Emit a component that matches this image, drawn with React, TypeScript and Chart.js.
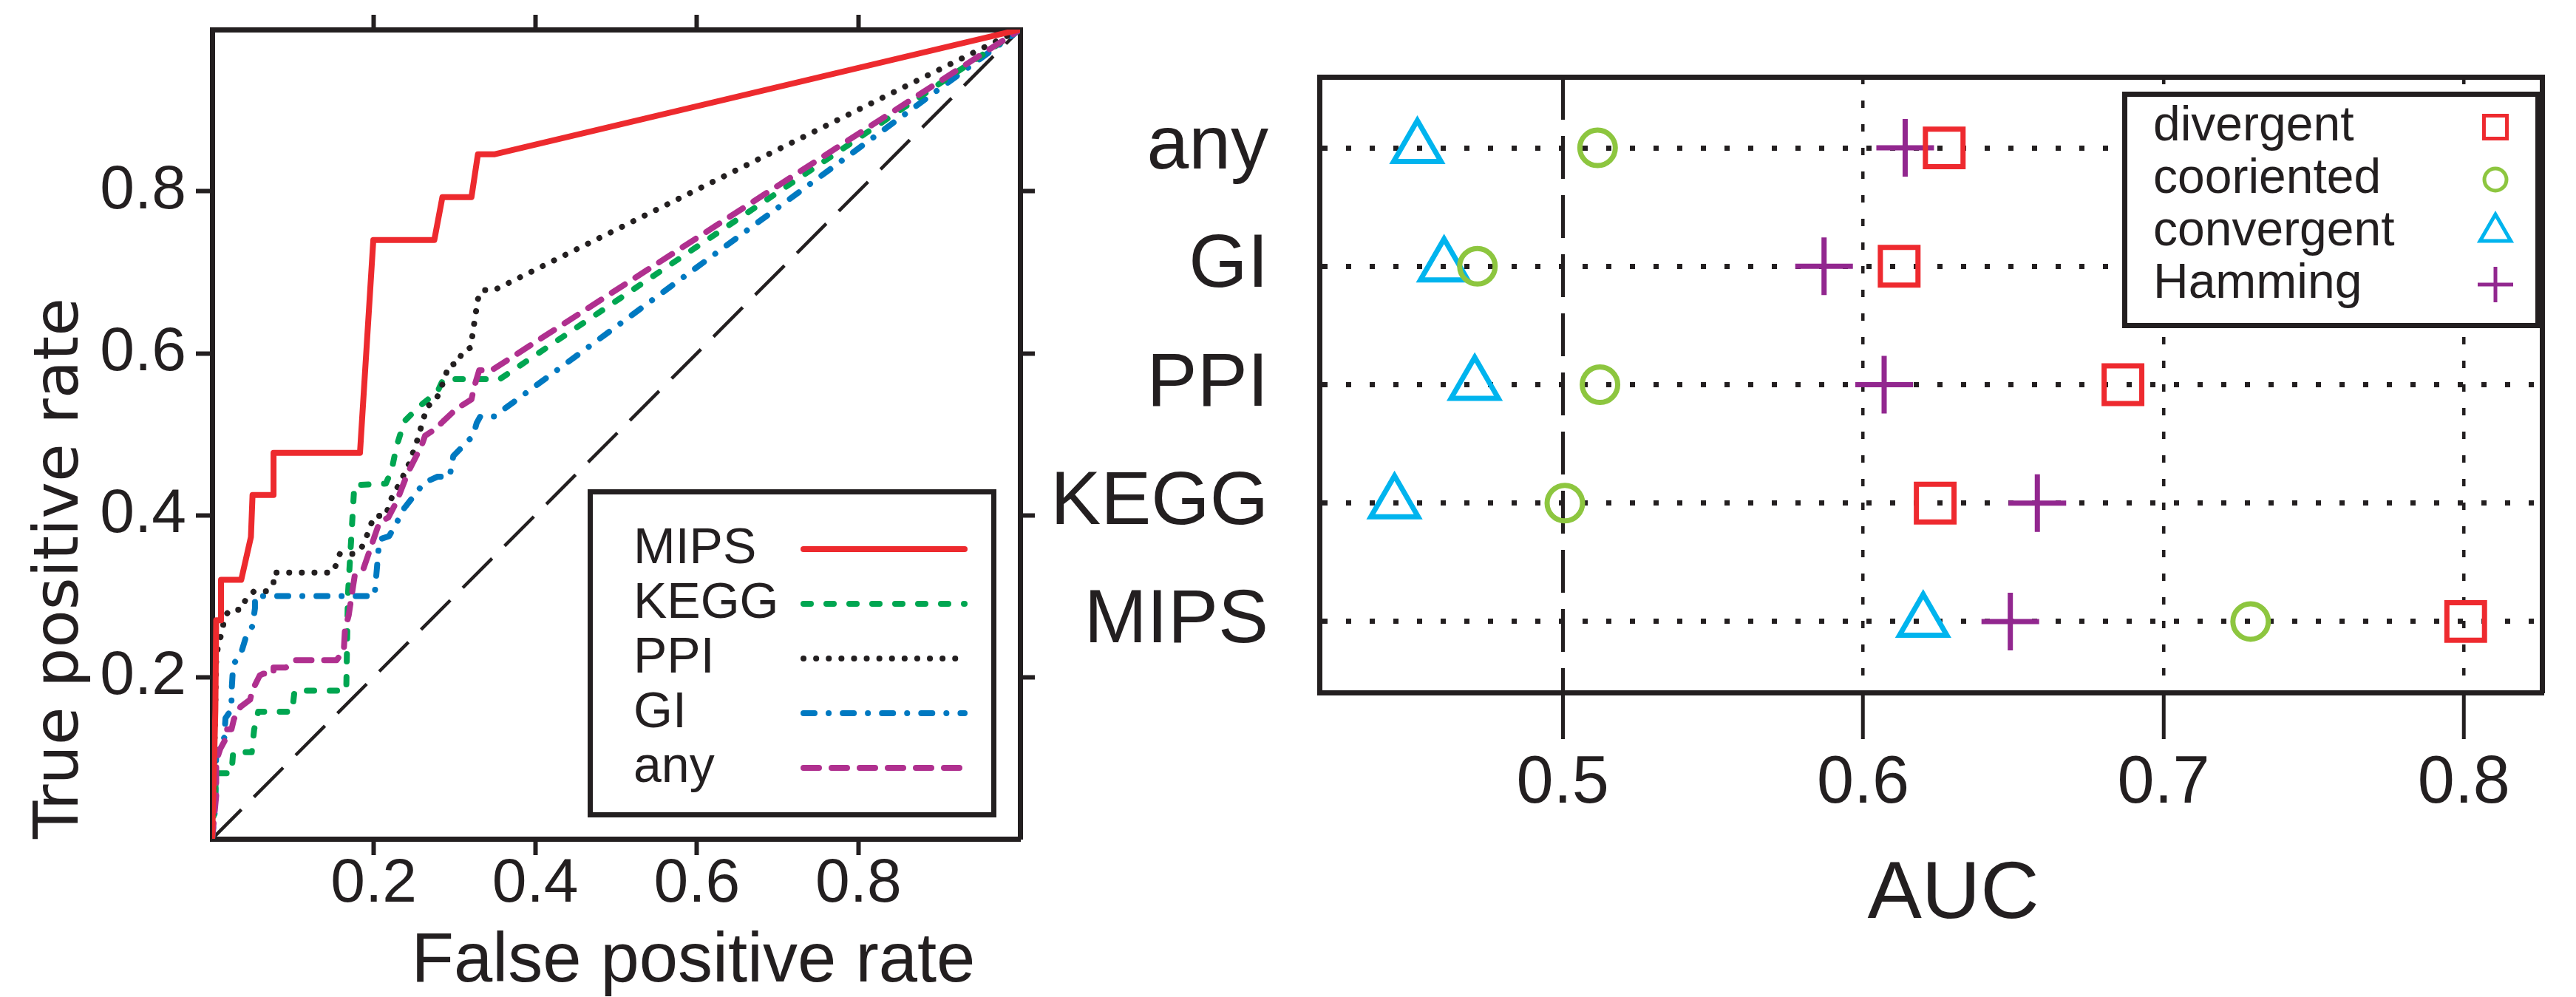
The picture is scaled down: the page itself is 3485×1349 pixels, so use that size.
import React, { useEffect, useRef } from 'react';
import { Chart, registerables } from 'chart.js';
import { drawPoint } from 'chart.js/helpers';

Chart.register(...registerables);

// ---------------- page / fonts / colours ----------------
const W = 3485;
const H = 1349;
const SANS = "'Liberation Sans', Arial, sans-serif";
const WIDE = "'DejaVu Sans', sans-serif";
const BLACK = '#231F20';

// ---------------- ROC panel data ----------------
const ROC_TICKS = [0.2, 0.4, 0.6, 0.8];
const ROC_LABELS = ['MIPS', 'KEGG', 'PPI', 'GI', 'any'];

const MIPS_FPR = [0, 0.004, 0.005, 0.011, 0.011, 0.036, 0.048, 0.05, 0.076, 0.076, 0.183, 0.1995, 0.275, 0.285, 0.321, 0.329, 0.35, 1];
const MIPS_TPR = [0, 0.16, 0.27, 0.27, 0.32, 0.32, 0.373, 0.425, 0.425, 0.477, 0.477, 0.74, 0.74, 0.793, 0.793, 0.846, 0.846, 1];

const KEGG_FPR = [0, 0.004, 0.005, 0.024, 0.026, 0.049, 0.052, 0.057, 0.099, 0.102, 0.166, 0.168, 0.176, 0.215, 0.222, 0.2285, 0.238, 0.256, 0.279, 0.286, 0.356, 1];
const KEGG_TPR = [0, 0.06, 0.081, 0.081, 0.107, 0.107, 0.135, 0.157, 0.157, 0.183, 0.183, 0.3, 0.437, 0.439, 0.455, 0.486, 0.516, 0.534, 0.5525, 0.568, 0.568, 1];

const PPI_FPR = [0, 0.003, 0.005, 0.007, 0.01, 0.013, 0.015, 0.022, 0.036, 0.042, 0.052, 0.067, 0.076, 0.076, 0.149, 0.154, 0.158, 0.174, 0.184, 0.19, 0.195, 0.201, 0.215, 0.219, 0.224, 0.231, 0.244, 0.254, 0.266, 0.277, 0.288, 0.2925, 0.305, 0.309, 0.32, 0.3245, 0.329, 0.334, 0.349, 1];
const PPI_TPR = [0, 0.12, 0.22, 0.236, 0.248, 0.259, 0.274, 0.283, 0.283, 0.297, 0.306, 0.306, 0.314, 0.329, 0.329, 0.34, 0.352, 0.352, 0.358, 0.37, 0.385, 0.399, 0.399, 0.413, 0.426, 0.437, 0.464, 0.493, 0.534, 0.542, 0.569, 0.585, 0.588, 0.601, 0.607, 0.638, 0.667, 0.678, 0.678, 1];

const GI_FPR = [0, 0.004, 0.005, 0.015, 0.0165, 0.024, 0.024, 0.026, 0.036, 0.042, 0.05, 0.053, 0.053, 0.201, 0.207, 0.219, 0.227, 0.238, 0.254, 0.262, 0.279, 0.294, 0.2985, 0.311, 0.323, 0.3275, 0.332, 0.349, 1];
const GI_TPR = [0, 0.04, 0.11, 0.125, 0.149, 0.16, 0.181, 0.215, 0.23, 0.25, 0.263, 0.285, 0.3, 0.3, 0.37, 0.374, 0.388, 0.409, 0.429, 0.44, 0.4475, 0.4475, 0.473, 0.486, 0.498, 0.514, 0.522, 0.522, 1];

const ANY_FPR = [0, 0.005, 0.005, 0.01, 0.0165, 0.018, 0.024, 0.027, 0.035, 0.047, 0.05, 0.059, 0.063, 0.076, 0.076, 0.091, 0.1, 0.1025, 0.154, 0.163, 0.1644, 0.169, 0.1766, 0.187, 0.207, 0.218, 0.2285, 0.242, 0.259, 0.2635, 0.277, 0.286, 0.302, 0.321, 0.3245, 0.3306, 0.346, 1];
const ANY_TPR = [0, 0.053, 0.096, 0.111, 0.123, 0.1355, 0.1355, 0.148, 0.163, 0.172, 0.184, 0.202, 0.204, 0.204, 0.2116, 0.2116, 0.218, 0.2207, 0.2207, 0.233, 0.259, 0.276, 0.326, 0.333, 0.391, 0.397, 0.417, 0.452, 0.4855, 0.498, 0.507, 0.516, 0.531, 0.543, 0.559, 0.579, 0.579, 1];

const CHANCE_X = [0, 1];
const CHANCE_Y = [0, 1];

// ---------------- AUC panel data ----------------
const AUC_CATEGORIES = ['MIPS', 'KEGG', 'PPI', 'GI', 'any'];
const AUC_TICKS = [0.5, 0.6, 0.7, 0.8];
const AUC_ROWS = [1, 2, 3, 4, 5];
const DIVERGENT = [0.8006, 0.624, 0.6865, 0.612, 0.627];
const COORIENTED = [0.729, 0.5007, 0.5124, 0.4716, 0.5116];
const CONVERGENT = [0.62, 0.444, 0.4707, 0.4605, 0.4516];
const HAMMING = [0.649, 0.658, 0.607, 0.587, 0.614];

// ---------------- styles / layout ----------------
const ROC_AREA = { left: 287, top: 40, right: 1380, bottom: 1135 };
const AUC_AREA = { left: 1785, top: 104, right: 3454, bottom: 937 };
const AUC_X_RANGE = { min: 0.419, max: 0.826 };
const AUC_Y_RANGE = { min: 0.4, max: 5.6 };

const ROC_STYLES = [
  { color: '#ED2A2E', dash: [] as number[], order: 0 },
  { color: '#00A651', dash: [10, 21], order: 3 },
  { color: BLACK, dash: [0.1, 17], order: 2 },
  { color: '#0079C1', dash: [15, 19, 0.1, 19], order: 4 },
  { color: '#B0308F', dash: [21, 17], order: 1 },
];
const ROC_DATA = [
  [MIPS_FPR, MIPS_TPR],
  [KEGG_FPR, KEGG_TPR],
  [PPI_FPR, PPI_TPR],
  [GI_FPR, GI_TPR],
  [ANY_FPR, ANY_TPR],
];

const ROC_LEGEND = { x: 795, y: 662, w: 553, h: 444, textX: 857, firstRow: 743, rowGap: 74, lineX1: 1087, lineX2: 1305, font: 68 };

const AUC_SERIES = [
  { label: 'divergent', values: DIVERGENT, color: '#EE2A2F', style: 'rect', radius: 36, legendRadius: 22 },
  { label: 'cooriented', values: COORIENTED, color: '#8DC63F', style: 'circle', radius: 24, legendRadius: 15 },
  { label: 'convergent', values: CONVERGENT, color: '#00B4EE', style: 'triangle', radius: 37, legendRadius: 24 },
  { label: 'Hamming', values: HAMMING, color: '#92278F', style: 'cross', radius: 39, legendRadius: 24 },
];
const AUC_LEGEND = { x: 2871, y: 124, w: 566, h: 320, textX: 2913, firstRow: 172, rowGap: 71, markerX: 3376, font: 66 };

// ---------------- helpers ----------------
const fixBox = (size: number) => (s: any) => {
  if (s.isHorizontal()) s.height = size;
  else s.width = size;
  s.paddingLeft = 0;
  s.paddingRight = 0;
  s.paddingTop = 0;
  s.paddingBottom = 0;
};
const setTicks = (vals: number[]) => (s: any) => {
  s.ticks = vals.map((v) => ({ value: v }));
};

const rocLegendPlugin = {
  id: 'rocLegend',
  afterDraw(chart: any) {
    const ctx = chart.ctx;
    const b = ROC_LEGEND;
    ctx.save();
    ctx.fillStyle = '#ffffff';
    ctx.fillRect(b.x, b.y, b.w, b.h);
    ctx.setLineDash([]);
    ctx.lineWidth = 7;
    ctx.strokeStyle = BLACK;
    ctx.strokeRect(b.x + 3.5, b.y + 3.5, b.w - 7, b.h - 7);
    ctx.font = `${b.font}px ${SANS}`;
    ctx.textBaseline = 'middle';
    ctx.textAlign = 'left';
    chart.data.datasets
      .filter((d: any) => !d.isChance)
      .forEach((d: any, i: number) => {
        const y = b.firstRow + i * b.rowGap;
        ctx.fillStyle = BLACK;
        ctx.fillText(d.label, b.textX, y);
        ctx.strokeStyle = d.borderColor;
        ctx.lineWidth = d.borderWidth;
        ctx.lineCap = 'round';
        ctx.setLineDash(d.borderDash || []);
        ctx.beginPath();
        ctx.moveTo(b.lineX1, y);
        ctx.lineTo(b.lineX2, y);
        ctx.stroke();
      });
    ctx.restore();
  },
};

const aucLegendPlugin = {
  id: 'aucLegend',
  afterDraw(chart: any) {
    const ctx = chart.ctx;
    const b = AUC_LEGEND;
    ctx.save();
    ctx.fillStyle = '#ffffff';
    ctx.fillRect(b.x, b.y, b.w, b.h);
    ctx.setLineDash([]);
    ctx.lineWidth = 7;
    ctx.strokeStyle = BLACK;
    ctx.strokeRect(b.x + 3.5, b.y + 3.5, b.w - 7, b.h - 7);
    ctx.font = `${b.font}px ${SANS}`;
    ctx.textBaseline = 'middle';
    ctx.textAlign = 'left';
    chart.data.datasets.forEach((d: any, i: number) => {
      const y = b.firstRow + i * b.rowGap;
      ctx.fillStyle = BLACK;
      ctx.fillText(d.label, b.textX, y);
      ctx.fillStyle = 'rgba(0,0,0,0)';
      ctx.strokeStyle = d.pointBorderColor;
      ctx.lineWidth = 5;
      drawPoint(ctx, { pointStyle: d.pointStyle, rotation: 0, radius: d.legendRadius, borderWidth: 5 } as any, b.markerX, y);
    });
    ctx.restore();
  },
};

function rocConfig(): any {
  const datasets: any[] = ROC_LABELS.map((label, k) => ({
    type: 'line',
    label,
    data: ROC_DATA[k][0].map((x, i) => ({ x, y: ROC_DATA[k][1][i] })),
    borderColor: ROC_STYLES[k].color,
    borderWidth: 8,
    borderDash: ROC_STYLES[k].dash,
    borderCapStyle: 'round',
    borderJoinStyle: 'round',
    pointRadius: 0,
    tension: 0,
    fill: false,
    order: ROC_STYLES[k].order,
  }));
  datasets.push({
    type: 'line',
    label: 'chance',
    isChance: true,
    data: CHANCE_X.map((x, i) => ({ x, y: CHANCE_Y[i] })),
    borderColor: BLACK,
    borderWidth: 4.5,
    borderDash: [56, 24],
    borderCapStyle: 'butt',
    pointRadius: 0,
    tension: 0,
    fill: false,
    order: 10,
  });
  const tickFont = { family: SANS, size: 84, lineHeight: 1 };
  const fmt = (v: any) => Number(v).toFixed(1);
  return {
    type: 'line',
    data: { datasets },
    options: {
      animation: false,
      responsive: false,
      events: [],
      layout: { padding: { left: 0, top: ROC_AREA.top, right: W - ROC_AREA.right, bottom: 0 } },
      plugins: { legend: { display: false }, tooltip: { enabled: false } },
      scales: {
        x: {
          type: 'linear', position: 'bottom', min: 0, max: 1,
          afterBuildTicks: setTicks(ROC_TICKS), afterFit: fixBox(H - ROC_AREA.bottom),
          grid: { display: true, drawOnChartArea: false, drawTicks: true, tickLength: 22, tickWidth: 6, tickColor: BLACK },
          border: { display: true, width: 7, color: BLACK },
          ticks: { font: tickFont, color: BLACK, padding: -2, maxRotation: 0, minRotation: 0, autoSkip: false, callback: fmt },
          // leading spaces shift the centred title to the right, as in the original figure
          title: { display: true, text: '        False positive rate', color: BLACK, font: { family: SANS, size: 94, lineHeight: 1 }, padding: { top: 0, bottom: 0 } },
        },
        x2: {
          type: 'linear', position: 'top', min: 0, max: 1,
          afterBuildTicks: setTicks(ROC_TICKS), afterFit: fixBox(0),
          grid: { display: true, drawOnChartArea: false, drawTicks: true, tickLength: 20, tickWidth: 6, tickColor: BLACK },
          border: { display: true, width: 7, color: BLACK },
          ticks: { display: false },
        },
        y: {
          type: 'linear', position: 'left', min: 0, max: 1,
          afterBuildTicks: setTicks(ROC_TICKS), afterFit: fixBox(ROC_AREA.left),
          grid: { display: true, drawOnChartArea: false, drawTicks: true, tickLength: 22, tickWidth: 6, tickColor: BLACK },
          border: { display: true, width: 7, color: BLACK },
          ticks: { font: tickFont, color: BLACK, padding: 13, autoSkip: false, callback: fmt },
          title: { display: true, text: 'True positive rate', align: 'start', color: BLACK, font: { family: WIDE, size: 84, lineHeight: 1 }, padding: { top: 41, bottom: 0 } },
        },
        y2: {
          type: 'linear', position: 'right', min: 0, max: 1,
          afterBuildTicks: setTicks(ROC_TICKS), afterFit: fixBox(0),
          grid: { display: true, drawOnChartArea: false, drawTicks: true, tickLength: 20, tickWidth: 6, tickColor: BLACK },
          border: { display: true, width: 7, color: BLACK },
          ticks: { display: false },
        },
      },
    },
    plugins: [rocLegendPlugin],
  };
}

function aucConfig(): any {
  const datasets = AUC_SERIES.map((s) => ({
    type: 'scatter',
    label: s.label,
    data: s.values.map((v, i) => ({ x: v, y: AUC_ROWS[i] })),
    pointStyle: s.style,
    pointRadius: s.radius,
    legendRadius: s.legendRadius,
    pointBorderWidth: 7,
    borderColor: s.color,
    pointBorderColor: s.color,
    backgroundColor: 'rgba(0,0,0,0)',
    pointBackgroundColor: 'rgba(0,0,0,0)',
    showLine: false,
  }));
  const isHalf = (c: any) => c.tick && Math.abs(c.tick.value - 0.5) < 1e-9;
  return {
    type: 'scatter',
    data: { datasets },
    options: {
      animation: false,
      responsive: false,
      events: [],
      layout: { padding: { left: AUC_AREA.left - 400, top: AUC_AREA.top, right: W - AUC_AREA.right, bottom: 0 } },
      plugins: { legend: { display: false }, tooltip: { enabled: false } },
      scales: {
        x: {
          type: 'linear', position: 'bottom', min: AUC_X_RANGE.min, max: AUC_X_RANGE.max,
          afterBuildTicks: setTicks(AUC_TICKS), afterFit: fixBox(H - AUC_AREA.bottom),
          grid: {
            display: true, drawOnChartArea: true, drawTicks: true, tickLength: 63, tickWidth: 5, tickColor: BLACK,
            color: BLACK, lineWidth: (c: any) => (isHalf(c) ? 5 : 4.5),
          },
          border: { display: true, width: 7, color: BLACK, dash: (c: any) => (!c.tick ? [] : isHalf(c) ? [58, 22] : [10, 22]) },
          ticks: { font: { family: SANS, size: 90, lineHeight: 1 }, color: BLACK, padding: 16, maxRotation: 0, minRotation: 0, autoSkip: false, callback: (v: any) => Number(v).toFixed(1) },
          title: { display: true, text: '  AUC', color: BLACK, font: { family: SANS, size: 110, lineHeight: 1 }, padding: { top: 0, bottom: 82 } },
        },
        x2: {
          type: 'linear', position: 'top', min: AUC_X_RANGE.min, max: AUC_X_RANGE.max,
          afterFit: fixBox(0),
          grid: { display: false },
          border: { display: true, width: 7, color: BLACK },
          ticks: { display: false },
        },
        y: {
          type: 'linear', position: 'left', min: AUC_Y_RANGE.min, max: AUC_Y_RANGE.max,
          afterBuildTicks: setTicks(AUC_ROWS), afterFit: fixBox(400),
          grid: { display: true, drawOnChartArea: true, drawTicks: false, color: BLACK, lineWidth: 7 },
          border: { display: true, width: 7, color: BLACK, dash: (c: any) => (c.tick ? [7, 25] : []) },
          ticks: { font: { family: SANS, size: 102, lineHeight: 1 }, color: BLACK, padding: 69, autoSkip: false, callback: (v: any) => AUC_CATEGORIES[Math.round(Number(v)) - 1] },
        },
        y2: {
          type: 'linear', position: 'right', min: AUC_Y_RANGE.min, max: AUC_Y_RANGE.max,
          afterFit: fixBox(0),
          grid: { display: false },
          border: { display: true, width: 7, color: BLACK },
          ticks: { display: false },
        },
      },
    },
    plugins: [aucLegendPlugin],
  };
}

export default function App() {
  const leftRef = useRef<HTMLCanvasElement>(null);
  const rightRef = useRef<HTMLCanvasElement>(null);
  useEffect(() => {
    const c1 = new Chart(leftRef.current as HTMLCanvasElement, rocConfig());
    const c2 = new Chart(rightRef.current as HTMLCanvasElement, aucConfig());
    return () => {
      c1.destroy();
      c2.destroy();
    };
  }, []);
  const cs: React.CSSProperties = { position: 'absolute', left: 0, top: 0, width: W, height: H };
  return (
    <div style={{ position: 'absolute', left: 0, top: 0, width: W, height: H, background: '#ffffff', overflow: 'hidden' }}>
      <canvas ref={leftRef} width={W} height={H} style={cs} />
      <canvas ref={rightRef} width={W} height={H} style={cs} />
    </div>
  );
}
